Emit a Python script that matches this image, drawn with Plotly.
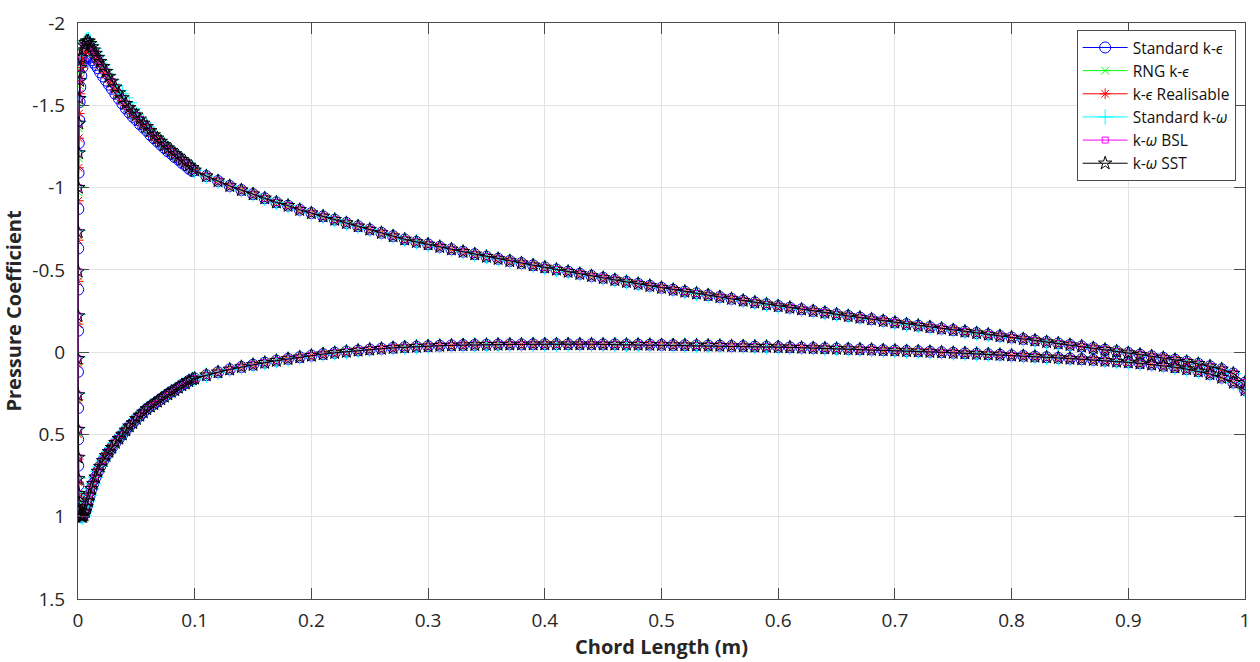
import plotly.graph_objects as go

# ---------------- chord positions ----------------
# aft part of both surfaces (shared chordwise stations)
x_mid = [0.10, 0.11, 0.12, 0.13, 0.14, 0.15, 0.16, 0.17, 0.18, 0.19,
         0.20, 0.21, 0.22, 0.23, 0.24, 0.25, 0.26, 0.27, 0.28, 0.29,
         0.30, 0.31, 0.32, 0.33, 0.34, 0.35, 0.36, 0.37, 0.38, 0.39,
         0.40, 0.41, 0.42, 0.43, 0.44, 0.45, 0.46, 0.47, 0.48, 0.49,
         0.50, 0.51, 0.52, 0.53, 0.54, 0.55, 0.56, 0.57, 0.58, 0.59,
         0.60, 0.61, 0.62, 0.63, 0.64, 0.65, 0.66, 0.67, 0.68, 0.69,
         0.70, 0.71, 0.72, 0.73, 0.74, 0.75, 0.76, 0.77, 0.78, 0.79,
         0.80, 0.81, 0.82, 0.83, 0.84, 0.85, 0.86, 0.87, 0.88, 0.89,
         0.90, 0.91, 0.92, 0.93, 0.94, 0.95, 0.96, 0.97, 0.98, 0.99, 1.00]

# refined stations near the leading edge
x_nose_up = [0.0, 0.00005, 0.0001, 0.0002, 0.0003, 0.0005, 0.0007, 0.001,
             0.0014, 0.002, 0.0028, 0.0038, 0.005, 0.0063, 0.0077, 0.009]
x_band_up = [0.0105, 0.012, 0.0135, 0.015, 0.017, 0.019, 0.0215, 0.024, 0.0265,
             0.029, 0.032, 0.035, 0.038, 0.041, 0.044, 0.047, 0.050, 0.053,
             0.056, 0.059, 0.062, 0.065, 0.068, 0.071, 0.074, 0.077, 0.080,
             0.083, 0.086, 0.089, 0.092, 0.095, 0.098]
x_nose_lo = [0.00005, 0.0001, 0.0002, 0.0003, 0.0005, 0.0008, 0.0012, 0.0018,
             0.0025, 0.0033, 0.0042, 0.0052, 0.0063, 0.0075, 0.0088]
x_band_lo = [0.010, 0.0115, 0.013, 0.015, 0.017, 0.019, 0.0215, 0.024, 0.0265,
             0.029, 0.032, 0.035, 0.038, 0.041, 0.044, 0.047, 0.050, 0.053,
             0.056, 0.059, 0.062, 0.065, 0.068, 0.071, 0.074, 0.077, 0.080,
             0.083, 0.086, 0.089, 0.092, 0.095, 0.098]

# ---------------- pressure coefficient, shared aft values ----------------
cp_mid_upper = [-1.105, -1.07, -1.04, -1.01, -0.985, -0.96, -0.935, -0.91, -0.89, -0.865,
                -0.845, -0.825, -0.805, -0.785, -0.765, -0.745, -0.725, -0.705, -0.685, -0.67,
                -0.655, -0.64, -0.625, -0.61, -0.595, -0.58, -0.567, -0.554, -0.541, -0.528,
                -0.515, -0.502, -0.489, -0.476, -0.463, -0.451, -0.439, -0.427, -0.415, -0.403,
                -0.391, -0.379, -0.368, -0.357, -0.346, -0.335, -0.324, -0.313, -0.302, -0.291,
                -0.28, -0.27, -0.26, -0.25, -0.24, -0.23, -0.22, -0.21, -0.20, -0.19,
                -0.18, -0.17, -0.161, -0.152, -0.143, -0.134, -0.125, -0.116, -0.107, -0.098,
                -0.089, -0.08, -0.071, -0.062, -0.053, -0.044, -0.035, -0.025, -0.015, -0.005,
                0.005, 0.015, 0.025, 0.035, 0.046, 0.058, 0.071, 0.086, 0.104, 0.13, 0.185]
cp_mid_lower = [0.16, 0.14, 0.122, 0.105, 0.09, 0.077, 0.064, 0.052, 0.041, 0.031,
                0.021, 0.012, 0.004, -0.003, -0.01, -0.016, -0.021, -0.026, -0.03, -0.033,
                -0.036, -0.039, -0.041, -0.043, -0.044, -0.045, -0.046, -0.047, -0.047, -0.048,
                -0.048, -0.048, -0.048, -0.048, -0.048, -0.047, -0.047, -0.046, -0.046, -0.045,
                -0.044, -0.043, -0.042, -0.041, -0.04, -0.039, -0.037, -0.036, -0.034, -0.033,
                -0.031, -0.029, -0.027, -0.025, -0.023, -0.021, -0.019, -0.017, -0.015, -0.012,
                -0.01, -0.007, -0.005, -0.002, 0.001, 0.004, 0.007, 0.01, 0.013, 0.016,
                0.02, 0.023, 0.027, 0.031, 0.035, 0.039, 0.043, 0.047, 0.052, 0.057,
                0.062, 0.068, 0.075, 0.083, 0.092, 0.103, 0.116, 0.133, 0.155, 0.185, 0.23]
cp_band_lower = [0.87, 0.83, 0.80, 0.76, 0.725, 0.695, 0.66, 0.63, 0.605, 0.58, 0.55,
                 0.525, 0.50, 0.475, 0.45, 0.43, 0.405, 0.385, 0.365, 0.345, 0.33, 0.315,
                 0.30, 0.285, 0.27, 0.255, 0.24, 0.23, 0.215, 0.20, 0.19, 0.175, 0.165]

# ---------------- model specific leading-edge values ----------------
# Standard k-epsilon
ske_nose_up = [0.12, -0.13, -0.38, -0.63, -0.87, -1.09, -1.27, -1.41,
               -1.52, -1.61, -1.68, -1.73, -1.765, -1.785, -1.795, -1.80]
ske_band_up = [-1.79, -1.775, -1.76, -1.745, -1.725, -1.70, -1.675, -1.65, -1.625, -1.60, -1.57,
               -1.54, -1.51, -1.48, -1.455, -1.43, -1.41, -1.385, -1.365, -1.345, -1.32, -1.30,
               -1.28, -1.26, -1.24, -1.22, -1.205, -1.185, -1.17, -1.15, -1.135, -1.115, -1.10]
ske_nose_lo = [0.34, 0.53, 0.69, 0.81, 0.89, 0.94, 0.975, 0.99, 1.0, 1.0, 0.995, 0.985, 0.965, 0.935, 0.90]

# RNG k-epsilon
rng_nose_up = [0.06, -0.19, -0.46, -0.71, -0.97, -1.18, -1.36, -1.51,
               -1.62, -1.71, -1.775, -1.82, -1.85, -1.87, -1.88, -1.88]
rng_band_up = [-1.87, -1.85, -1.83, -1.81, -1.785, -1.76, -1.73, -1.70, -1.67, -1.64, -1.605,
               -1.57, -1.54, -1.505, -1.48, -1.455, -1.435, -1.41, -1.385, -1.365, -1.34, -1.315,
               -1.295, -1.275, -1.255, -1.235, -1.22, -1.20, -1.185, -1.165, -1.15, -1.13, -1.115]
rng_nose_lo = [0.28, 0.49, 0.65, 0.78, 0.865, 0.925, 0.962, 0.985, 0.995, 1.0, 1.0, 0.99, 0.968, 0.938, 0.903]

# Realisable k-epsilon
rke_nose_up = [0.07, -0.17, -0.43, -0.68, -0.92, -1.12, -1.30, -1.45,
               -1.57, -1.66, -1.73, -1.78, -1.815, -1.835, -1.845, -1.85]
rke_band_up = [-1.845, -1.83, -1.815, -1.795, -1.77, -1.745, -1.715, -1.685, -1.66, -1.63, -1.595,
               -1.56, -1.53, -1.50, -1.475, -1.45, -1.43, -1.405, -1.38, -1.36, -1.335, -1.31,
               -1.29, -1.27, -1.25, -1.23, -1.215, -1.195, -1.18, -1.16, -1.145, -1.125, -1.11]
rke_nose_lo = [0.29, 0.50, 0.65, 0.79, 0.87, 0.93, 0.965, 0.985, 0.995, 1.0, 0.995, 0.985, 0.965, 0.935, 0.90]

# Standard k-omega
skw_nose_up = [0.03, -0.23, -0.50, -0.74, -1.01, -1.22, -1.40, -1.55,
               -1.66, -1.74, -1.80, -1.845, -1.875, -1.89, -1.90, -1.90]
skw_band_up = [-1.885, -1.865, -1.845, -1.825, -1.80, -1.775, -1.745, -1.715, -1.685, -1.655, -1.62,
               -1.59, -1.57, -1.545, -1.515, -1.48, -1.445, -1.42, -1.395, -1.37, -1.345, -1.32,
               -1.30, -1.28, -1.26, -1.24, -1.225, -1.205, -1.19, -1.17, -1.155, -1.135, -1.12]
skw_nose_lo = [0.25, 0.46, 0.63, 0.765, 0.855, 0.918, 0.958, 0.984, 0.995, 1.0, 1.0, 0.99, 0.97, 0.94, 0.905]

# k-omega BSL
bsl_nose_up = [0.04, -0.22, -0.49, -0.73, -1.0, -1.21, -1.39, -1.54,
               -1.65, -1.73, -1.79, -1.835, -1.865, -1.88, -1.888, -1.888]
bsl_band_up = [-1.873, -1.853, -1.833, -1.813, -1.788, -1.763, -1.733, -1.703, -1.673, -1.643, -1.608,
               -1.573, -1.543, -1.508, -1.483, -1.458, -1.438, -1.413, -1.388, -1.368, -1.343, -1.318,
               -1.298, -1.278, -1.258, -1.238, -1.223, -1.203, -1.188, -1.168, -1.153, -1.133, -1.118]
bsl_nose_lo = [0.26, 0.47, 0.64, 0.77, 0.86, 0.92, 0.96, 0.985, 0.995, 1.0, 1.0, 0.99, 0.97, 0.94, 0.905]

# k-omega SST
sst_nose_up = [0.04, -0.22, -0.49, -0.73, -1.00, -1.21, -1.39, -1.54,
               -1.65, -1.73, -1.79, -1.835, -1.865, -1.88, -1.89, -1.89]
sst_band_up = [-1.875, -1.855, -1.835, -1.815, -1.79, -1.765, -1.735, -1.705, -1.675, -1.645, -1.61,
               -1.575, -1.545, -1.51, -1.485, -1.46, -1.44, -1.415, -1.39, -1.37, -1.345, -1.32,
               -1.30, -1.28, -1.26, -1.24, -1.225, -1.205, -1.19, -1.17, -1.155, -1.135, -1.12]
sst_nose_lo = [0.26, 0.47, 0.64, 0.77, 0.86, 0.92, 0.96, 0.985, 0.995, 1.0, 1.0, 0.99, 0.97, 0.94, 0.905]

model_names = ["Standard k-<i>ϵ</i>", "RNG k-<i>ϵ</i>", "k-<i>ϵ</i> Realisable",
               "Standard k-<i>ω</i>", "k-<i>ω</i> BSL", "k-<i>ω</i> SST"]
model_data = [(ske_nose_up, ske_band_up, ske_nose_lo),
              (rng_nose_up, rng_band_up, rng_nose_lo),
              (rke_nose_up, rke_band_up, rke_nose_lo),
              (skw_nose_up, skw_band_up, skw_nose_lo),
              (bsl_nose_up, bsl_band_up, bsl_nose_lo),
              (sst_nose_up, sst_band_up, sst_nose_lo)]
model_colors = ["#0000ff", "#00ff00", "#ff0000", "#00ffff", "#ff00ff", "#000000"]
model_symbols = ["circle-open", "x-thin-open", "asterisk-open",
                 "cross-thin-open", "square-open", "star-open"]
model_sizes = [11, 8, 9, 11, 6, 10]

x_tick_vals = [0, 0.1, 0.2, 0.3, 0.4, 0.5, 0.6, 0.7, 0.8, 0.9, 1]
x_tick_text = ["0", "0.1", "0.2", "0.3", "0.4", "0.5", "0.6", "0.7", "0.8", "0.9", "1"]
y_tick_vals = [-2, -1.5, -1, -0.5, 0, 0.5, 1, 1.5]
y_tick_text = ["-2", "-1.5", "-1", "-0.5", "0", "0.5", "1", "1.5"]

# path around the aerofoil: upper surface TE -> LE, then lower surface LE -> TE
x_path = (x_mid[::-1] + x_band_up[::-1] + x_nose_up[::-1]
          + x_nose_lo + x_band_lo + x_mid)

fig = go.Figure()
for name, (nose_up, band_up, nose_lo), col, sym, sz in zip(
        model_names, model_data, model_colors, model_symbols, model_sizes):
    cp_path = (cp_mid_upper[::-1] + band_up[::-1] + nose_up[::-1]
               + nose_lo + cp_band_lower + cp_mid_lower)
    fig.add_trace(go.Scatter(
        x=x_path, y=cp_path, name=name, mode="lines+markers",
        line=dict(color=col, width=1),
        marker=dict(symbol=sym, size=sz, color=col, line=dict(color=col, width=1)),
    ))

font_family = "'Open Sans', Lato, sans-serif"
axis_col = "#4a4a4a"
grid_col = "#e2e2e2"
text_col = "#262626"

fig.update_layout(
    width=1260, height=662,
    margin=dict(l=78, r=10, t=15, b=63),
    paper_bgcolor="white", plot_bgcolor="white",
    font=dict(family=font_family, color=text_col),
    showlegend=True,
    legend=dict(
        x=0.992, y=0.988, xanchor="right", yanchor="top",
        bgcolor="white", bordercolor=axis_col, borderwidth=1,
        font=dict(size=15.5, family=font_family, color="#111111"),
        itemwidth=45, tracegroupgap=0,
    ),
)
fig.update_xaxes(
    range=[0, 1], tickvals=x_tick_vals, ticktext=x_tick_text,
    showgrid=True, gridcolor=grid_col, gridwidth=1, zeroline=False,
    showline=True, linecolor=axis_col, linewidth=1, mirror="ticks",
    ticks="inside", ticklen=11, tickcolor=axis_col,
    tickfont=dict(size=19, color=text_col), ticklabelstandoff=4,
    title=dict(text="<b>Chord Length (m)</b>", font=dict(size=20, color=text_col), standoff=4),
)
fig.update_yaxes(
    range=[1.5, -2], tickvals=y_tick_vals, ticktext=y_tick_text,
    showgrid=True, gridcolor=grid_col, gridwidth=1, zeroline=False,
    showline=True, linecolor=axis_col, linewidth=1, mirror="ticks",
    ticks="inside", ticklen=11, tickcolor=axis_col,
    tickfont=dict(size=19, color=text_col), ticklabelstandoff=8,
    title=dict(text="<b>Pressure Coefficient</b>", font=dict(size=20, color=text_col), standoff=6),
)

fig.write_html("out.html")
